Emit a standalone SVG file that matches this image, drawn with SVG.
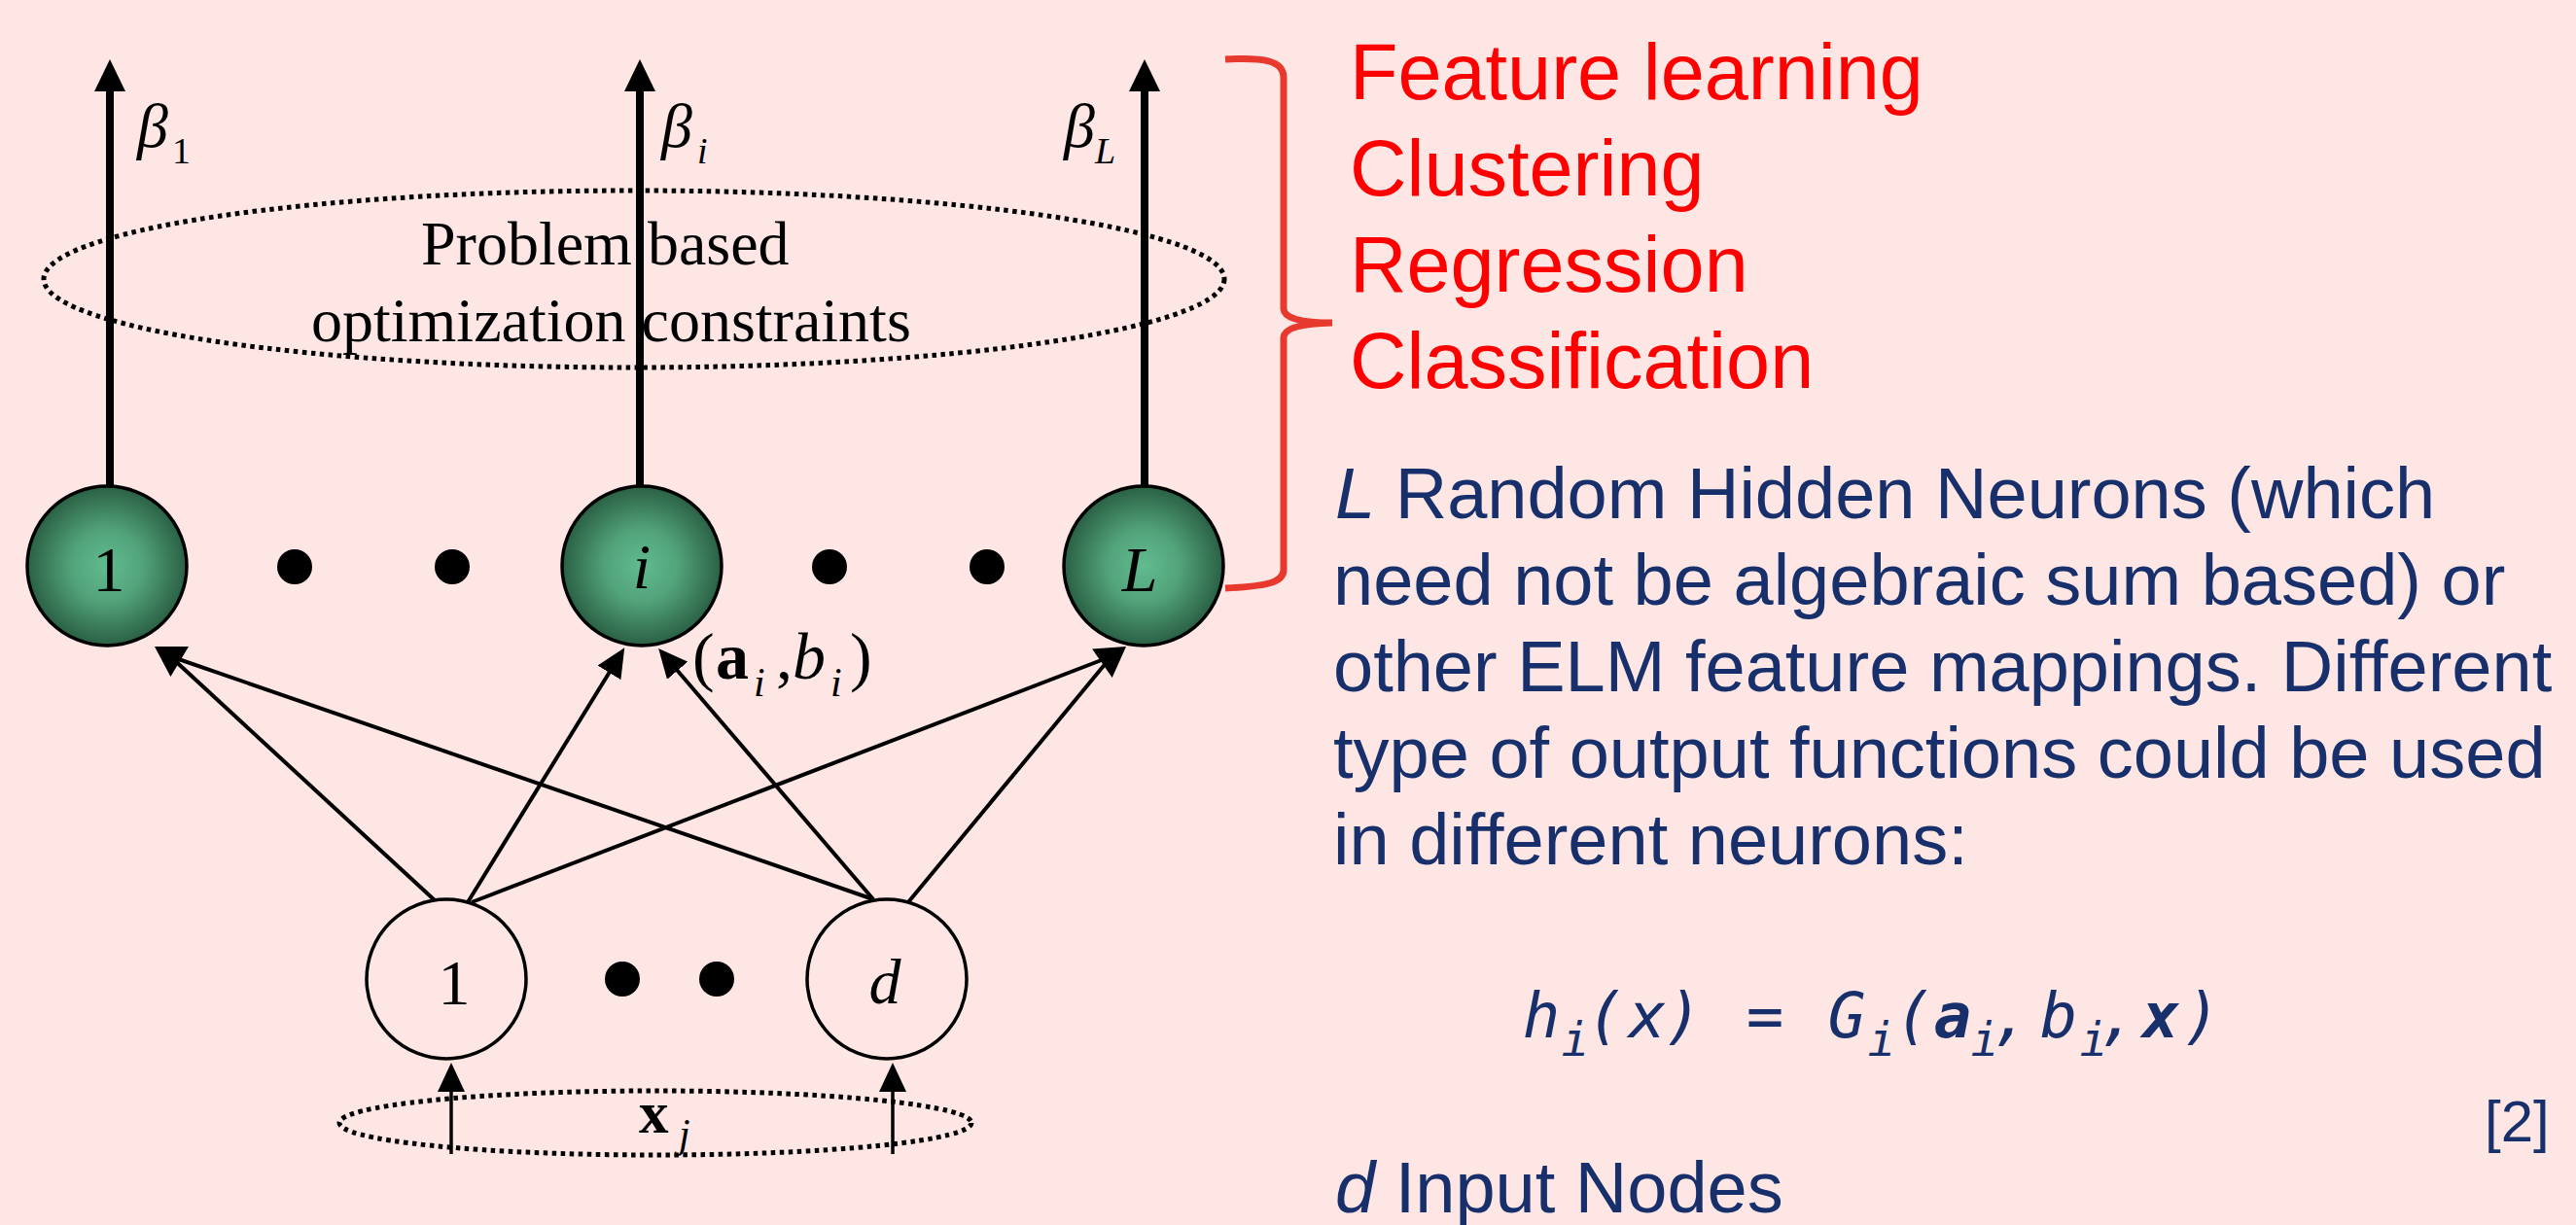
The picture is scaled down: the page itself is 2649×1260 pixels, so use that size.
<svg xmlns="http://www.w3.org/2000/svg" width="2649" height="1260" viewBox="0 0 2649 1260">
<defs>
<radialGradient id="gHid" cx="50%" cy="50%" r="50%">
<stop offset="0%" stop-color="#62bb90"/>
<stop offset="45%" stop-color="#52a37a"/>
<stop offset="100%" stop-color="#2a6044"/>
</radialGradient>
<marker id="ah" markerUnits="userSpaceOnUse" viewBox="0 0 30 28" refX="1" refY="14" markerWidth="30" markerHeight="28" orient="auto">
<path d="M0,0 L30,14 L0,28 z" fill="#000"/>
</marker>
<marker id="ahOut" markerUnits="userSpaceOnUse" viewBox="0 0 33 32" refX="1" refY="16" markerWidth="33" markerHeight="32" orient="auto">
<path d="M0,0 L33,16 L0,32 z" fill="#000"/>
</marker>
</defs>
<style>
.bg{fill:#fee6e5}
.hid{fill:url(#gHid);stroke:#000;stroke-width:3.5}
.inp{fill:none;stroke:#000;stroke-width:3.5}
.dot{fill:#000}
.dotted{fill:none;stroke:#000;stroke-width:5;stroke-dasharray:4.5 4.5}
.con{stroke:#000;stroke-width:4;fill:none}
.out{stroke:#000;stroke-width:8;fill:none}
.inl{stroke:#000;stroke-width:3.5;fill:none}
.tm{font-family:"Liberation Serif","Times New Roman",serif;fill:#000}
.red{font-family:"Liberation Sans",Arial,sans-serif;font-size:81px;fill:#ff0000}
.blue{font-family:"Liberation Sans",Arial,sans-serif;font-size:74px;fill:#172f6a}
.fm{font-family:"DejaVu Sans Mono",monospace;font-style:italic;fill:#172f6a}
</style>
<rect class="bg" x="0" y="0" width="2649" height="1260"/>

<g id="constraints">
<ellipse class="dotted" cx="652" cy="287" rx="607" ry="91"/>
<text class="tm" x="433" y="272" font-size="64">Problem based</text>
<text class="tm" x="320" y="351" font-size="64">optimization constraints</text>
</g>

<g id="input-ellipse">
<ellipse class="dotted" cx="674" cy="1155" rx="325" ry="33"/>
<text class="tm" y="1165" font-size="61"><tspan x="657" font-weight="bold">x</tspan><tspan x="698" y="1180" font-size="42" font-style="italic">j</tspan></text>
</g>

<g id="connectors">
<line class="out" x1="113" y1="500" x2="113" y2="93" marker-end="url(#ahOut)"/>
<line class="out" x1="658" y1="500" x2="658" y2="93" marker-end="url(#ahOut)"/>
<line class="out" x1="1177" y1="500" x2="1177" y2="93" marker-end="url(#ahOut)"/>
<line class="con" x1="447" y1="926" x2="175" y2="675"/>
<line class="con" x1="898" y1="925" x2="175" y2="675"/>
<polygon points="159,665 175.4,695.9 194,665.1" fill="#000"/>
<line class="con" x1="481" y1="928" x2="627" y2="691" marker-end="url(#ah)"/>
<line class="con" x1="898" y1="925" x2="696" y2="689" marker-end="url(#ah)"/>
<line class="con" x1="485" y1="928" x2="1143" y2="675"/>
<line class="con" x1="934" y1="928" x2="1143" y2="675"/>
<polygon points="1158,665 1143.7,696.9 1123.1,667.5" fill="#000"/>
<line class="inl" x1="464" y1="1187" x2="464" y2="1122" marker-end="url(#ah)"/>
<line class="inl" x1="918" y1="1187" x2="918" y2="1122" marker-end="url(#ah)"/>
</g>

<g id="beta-labels">
<text class="tm" font-size="64" font-style="italic"><tspan x="141" y="151">β</tspan><tspan x="177" y="168" font-size="38" font-style="normal">1</tspan></text>
<text class="tm" font-size="64" font-style="italic"><tspan x="680" y="151">β</tspan><tspan x="717" y="168" font-size="38">i</tspan></text>
<text class="tm" font-size="64" font-style="italic"><tspan x="1094" y="151">β</tspan><tspan x="1126" y="168" font-size="38">L</tspan></text>
</g>

<g id="hidden-1">
<circle class="hid" cx="110" cy="582" r="82"/>
<text class="tm" x="112" y="608" font-size="66" text-anchor="middle">1</text>
</g>
<g id="hidden-i">
<circle class="hid" cx="660" cy="582" r="82"/>
<text class="tm" x="660" y="605" font-size="66" font-style="italic" text-anchor="middle">i</text>
</g>
<g id="hidden-L">
<circle class="hid" cx="1176" cy="582" r="82"/>
<text class="tm" x="1172" y="608" font-size="66" font-style="italic" text-anchor="middle">L</text>
</g>
<g id="hidden-dots">
<circle class="dot" cx="303" cy="583" r="18"/>
<circle class="dot" cx="465" cy="583" r="18"/>
<circle class="dot" cx="853" cy="583" r="18"/>
<circle class="dot" cx="1015" cy="583" r="18"/>
</g>

<g id="weights-label">
<text class="tm" font-size="68"><tspan x="712" y="698">(</tspan><tspan x="736" font-weight="bold">a</tspan><tspan x="775" y="716" font-size="42" font-style="italic">i</tspan><tspan x="798" y="698">,</tspan><tspan x="815" font-style="italic">b</tspan><tspan x="854" y="716" font-size="42" font-style="italic">i</tspan><tspan x="874" y="698">)</tspan></text>
</g>

<g id="input-1">
<circle class="inp" cx="459" cy="1007" r="82"/>
<text class="tm" x="467" y="1033" font-size="66" text-anchor="middle">1</text>
</g>
<g id="input-d">
<circle class="inp" cx="912" cy="1007" r="82"/>
<text class="tm" x="910" y="1032" font-size="66" font-style="italic" text-anchor="middle">d</text>
</g>
<g id="input-dots">
<circle class="dot" cx="640" cy="1007" r="18"/>
<circle class="dot" cx="737" cy="1007" r="18"/>
</g>

<g id="bracket">
<path d="M1260,61 C1300,59 1320,62 1320,80 L1320,318 Q1321,332 1370,332 Q1321,333 1320,347 L1320,586 C1320,600 1300,603 1260,605" fill="none" stroke="#e8392f" stroke-width="7"/>
</g>

<g id="tasks">
<text class="red" x="1388" y="102">Feature learning</text>
<text class="red" x="1388" y="201">Clustering</text>
<text class="red" x="1388" y="300">Regression</text>
<text class="red" x="1388" y="399">Classification</text>
</g>

<g id="description">
<text class="blue" x="1373" y="533"><tspan font-style="italic">L</tspan> Random Hidden Neurons (which</text>
<text class="blue" x="1371" y="622">need not be algebraic sum based) or</text>
<text class="blue" x="1371" y="711">other ELM feature mappings. Different</text>
<text class="blue" x="1371" y="800">type of output functions could be used</text>
<text class="blue" x="1371" y="889">in different neurons:</text>
</g>

<g id="formula">
<text class="fm" font-size="64" text-anchor="middle"><tspan x="1585" y="1067">h</tspan><tspan x="1620" y="1086" font-size="48">i</tspan><tspan x="1651" y="1067">(</tspan><tspan x="1694">x</tspan><tspan x="1731">)</tspan><tspan x="1815">=</tspan><tspan x="1899">G</tspan><tspan x="1935" y="1086" font-size="48">i</tspan><tspan x="1968" y="1067">(</tspan><tspan x="2008" font-weight="bold">a</tspan><tspan x="2041" y="1086" font-size="48">i</tspan><tspan x="2068" y="1067">,</tspan><tspan x="2117">b</tspan><tspan x="2153" y="1086" font-size="48">i</tspan><tspan x="2178" y="1067">,</tspan><tspan x="2222" font-weight="bold">x</tspan><tspan x="2264">)</tspan></text>
</g>

<g id="reference">
<text class="blue" x="2555" y="1174" style="font-size:60px">[2]</text>
</g>

<g id="input-caption">
<text class="blue" x="1373" y="1247"><tspan font-style="italic">d</tspan> Input Nodes</text>
</g>
</svg>
